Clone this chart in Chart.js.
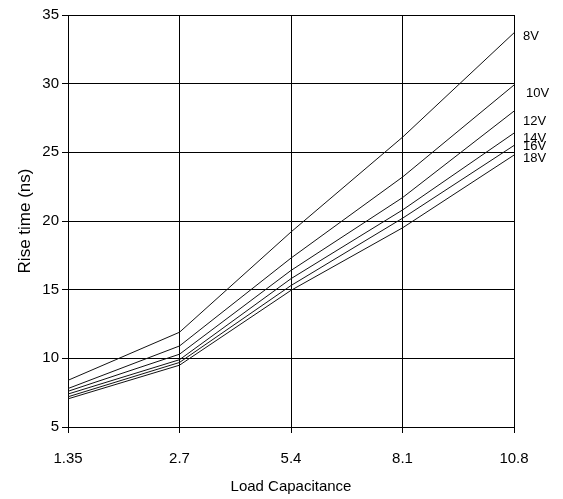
<!DOCTYPE html>
<html>
<head>
<meta charset="utf-8">
<script src="https://cdn.jsdelivr.net/npm/chart.js@4/dist/chart.umd.min.js"></script>
<style>
  html, body { margin: 0; padding: 0; background: #fff; }
  canvas { display: block; }
</style>
</head>
<body>
<canvas id="riseChart" width="563" height="499"></canvas>
<script>
// values
const loadCapacitance = ['1.35', '2.7', '5.4', '8.1', '10.8'];
const rise8V  = [8.4, 11.9, 19.2, 26.1, 33.7];
const rise10V = [7.8, 10.9, 17.3, 23.2, 29.9];
const rise12V = [7.6, 10.3, 16.4, 21.7, 28.0];
const rise14V = [7.4, 9.9, 15.8, 20.8, 26.4];
const rise16V = [7.2, 9.7, 15.3, 20.2, 25.5];
const rise18V = [7.05, 9.5, 14.95, 19.5, 24.8];
const voltageNames = ['8V', '10V', '12V', '14V', '16V', '18V'];
const yMin = 5, yMax = 35, yStep = 5;

const FONT = "'Liberation Sans', Arial, sans-serif";

// writes the voltage name to the right of each line end
const endLabels = {
    id: 'endLabels',
    afterDatasetsDraw(chart) {
        const ctx = chart.ctx;
        const nudgeY = [4, 8, 10, 5, 1, 3];
        const nudgeX = [0, 3, 0, 0, 0, 0];
        ctx.save();
        ctx.font = '13px ' + FONT;
        ctx.fillStyle = '#000';
        ctx.textBaseline = 'middle';
        ctx.textAlign = 'left';
        chart.data.datasets.forEach(function (ds, i) {
            const pts = chart.getDatasetMeta(i).data;
            const last = pts[pts.length - 1];
            ctx.fillText(ds.label, chart.chartArea.right + 9 + nudgeX[i], last.y + nudgeY[i]);
        });
        ctx.restore();
    }
};

const seriesValues = [rise8V, rise10V, rise12V, rise14V, rise16V, rise18V];

new Chart(document.getElementById('riseChart'), {
    type: 'line',
    data: {
        labels: loadCapacitance,
        datasets: seriesValues.map(function (vals, i) {
            return {
                label: voltageNames[i],
                data: vals,
                borderColor: '#111',
                borderWidth: 1,
                pointRadius: 0,
                tension: 0,
                fill: false
            };
        })
    },
    options: {
        responsive: false,
        animation: false,
        devicePixelRatio: 1,
        layout: { padding: { top: 15, right: 49, left: 0, bottom: 0 } },
        plugins: {
            legend: { display: false },
            tooltip: { enabled: false }
        },
        scales: {
            x: {
                type: 'category',
                offset: false,
                afterFit: function (s) { s.height = 72; },
                grid: { color: '#000', lineWidth: 1, tickLength: 6, drawTicks: true },
                border: { color: '#000' },
                ticks: { color: '#000', font: { family: FONT, size: 15 }, padding: 17, maxRotation: 0 },
                title: {
                    display: true,
                    text: 'Load Capacitance',
                    color: '#000',
                    font: { family: FONT, size: 15 },
                    padding: { top: 0, bottom: 3 }
                }
            },
            y: {
                min: yMin,
                max: yMax,
                afterFit: function (s) { s.width = 68; },
                grid: { color: '#000', lineWidth: 1, tickLength: 6 },
                border: { color: '#000' },
                ticks: { stepSize: yStep, color: '#000', font: { family: FONT, size: 15 }, padding: 3 },
                title: {
                    display: true,
                    text: 'Rise time (ns)',
                    color: '#000',
                    font: { family: FONT, size: 17 },
                    padding: { top: 15, bottom: 0 }
                }
            }
        }
    },
    plugins: [endLabels]
});
</script>
</body>
</html>
